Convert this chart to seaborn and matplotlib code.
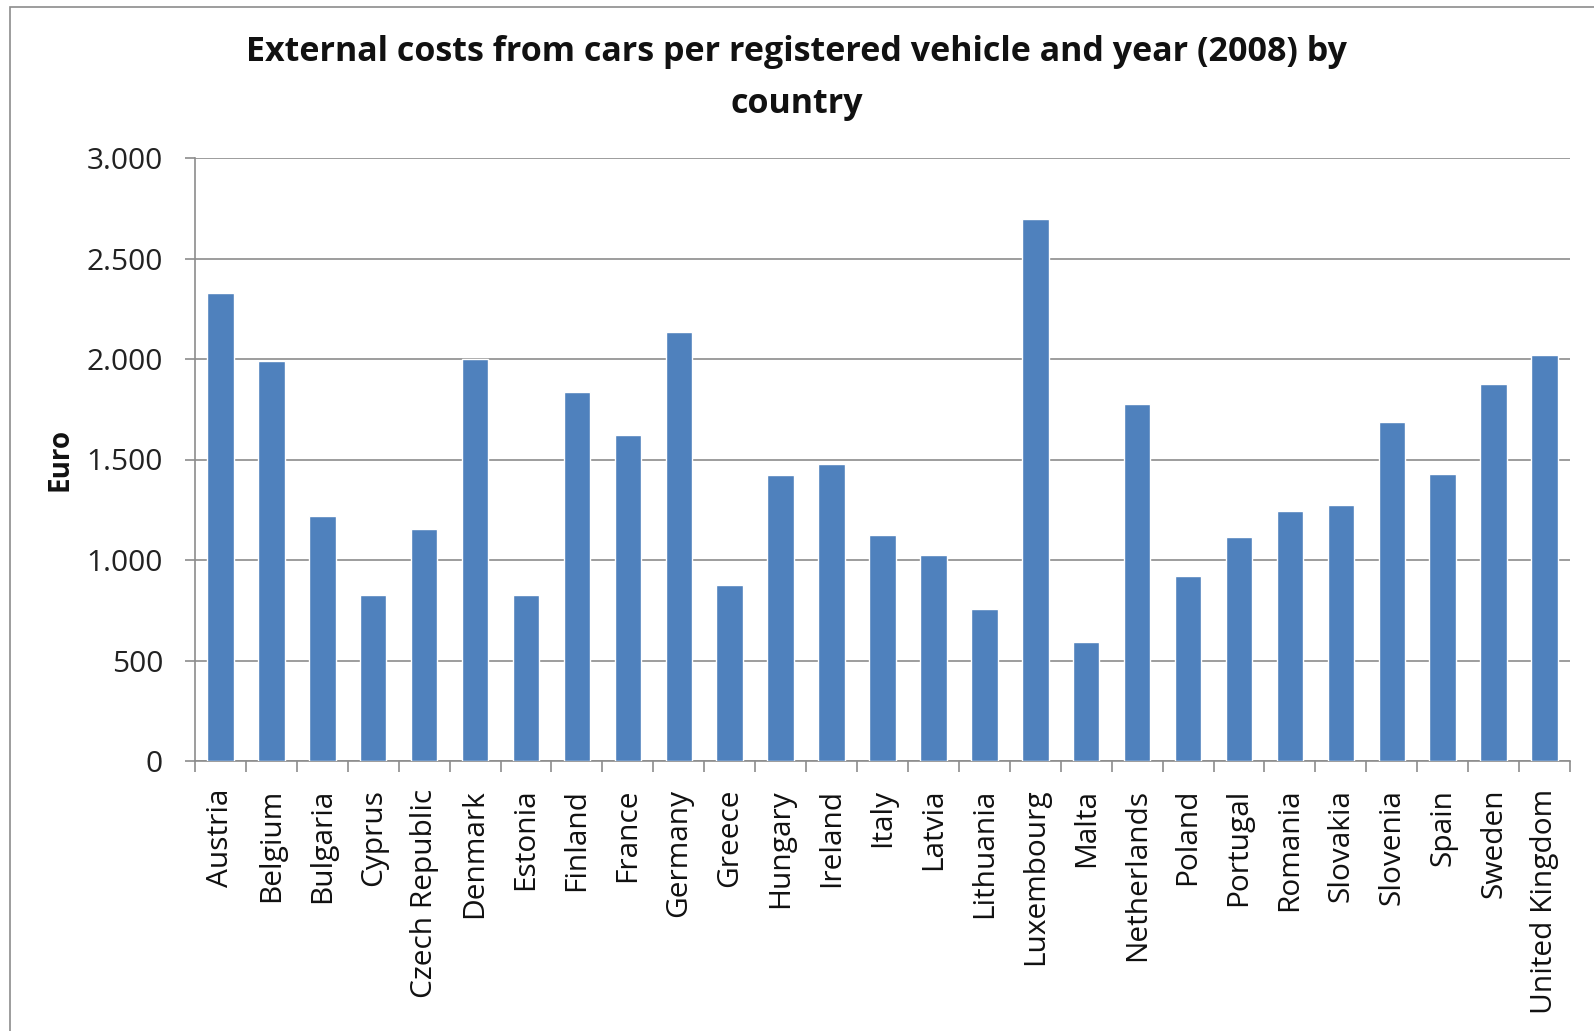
import matplotlib
matplotlib.use("Agg")
import matplotlib.pyplot as plt
import seaborn as sns
import pandas as pd
from matplotlib.ticker import FuncFormatter, FixedLocator
from matplotlib.patches import Rectangle

countries = ["Austria", "Belgium", "Bulgaria", "Cyprus", "Czech Republic", "Denmark",
             "Estonia", "Finland", "France", "Germany", "Greece", "Hungary", "Ireland",
             "Italy", "Latvia", "Lithuania", "Luxembourg", "Malta", "Netherlands",
             "Poland", "Portugal", "Romania", "Slovakia", "Slovenia", "Spain",
             "Sweden", "United Kingdom"]
costs = [2326, 1989, 1217, 828, 1154, 1999, 828, 1834, 1624, 2133, 877, 1421, 1478,
         1122, 1024, 757, 2699, 594, 1777, 918, 1113, 1244, 1274, 1689, 1429, 1875, 2021]
yticks = [0, 500, 1000, 1500, 2000, 2500, 3000]

title = "External costs from cars per registered vehicle and year (2008) by\ncountry"
ylabel = "Euro"

df = pd.DataFrame({"country": countries, "cost": costs})

sns.set_theme(style="white")
plt.rcParams['font.family'] = ['Open Sans', 'DejaVu Sans']

W, H = 1594, 1031
fig = plt.figure(figsize=(W / 100, H / 100), dpi=100)
ax = fig.add_axes([195 / W, 1 - 761 / H, (1570 - 195) / W, (761 - 158) / H])

sns.barplot(data=df, x="country", y="cost", color="#4F81BD", saturation=1,
            width=0.52, ax=ax, zorder=3)

ax.set_xlim(-0.5, len(countries) - 0.5)
ax.set_ylim(0, 3000)
ax.set_yticks(yticks)
ax.yaxis.set_major_formatter(FuncFormatter(lambda v, p: f"{int(v):,}".replace(",", ".")))
ax.yaxis.grid(True, color="#8c8c8c", linewidth=1.2, zorder=0)
ax.set_axisbelow(True)

for s in ["top", "right"]:
    ax.spines[s].set_visible(False)
for s in ["left", "bottom"]:
    ax.spines[s].set_color("#8c8c8c")
    ax.spines[s].set_linewidth(1.2)

ax.tick_params(axis="y", which="major", left=True, length=7, width=1.2, color="#8c8c8c",
               pad=16, labelsize=21.5, labelcolor="#222222")
ax.xaxis.set_minor_locator(FixedLocator([i - 0.5 for i in range(len(countries) + 1)]))
ax.tick_params(axis="x", which="minor", bottom=True, length=8, width=1.2, color="#8c8c8c")
ax.tick_params(axis="x", which="major", bottom=False, length=0, pad=20,
               labelsize=21.5, labelcolor="#111111")
ax.set_xticks(range(len(countries)))
ax.set_xticklabels(countries, rotation=90, va="top", ha="center")
ax.set_xlabel("")
ax.set_ylabel(ylabel, fontsize=20, fontweight="bold", labelpad=9, color="#111111")

fig.text(0.5, 1 - 78 / H, title, ha="center", va="center", fontsize=24.5,
         fontweight="bold", linespacing=1.68, color="#111111")

fig.patches.append(Rectangle((10 / W, -0.05), 1.1, 1 - 7 / H + 0.05, transform=fig.transFigure,
                             fill=False, edgecolor="#8c8c8c", linewidth=1.2))

fig.savefig("out.png", dpi=100, facecolor="white")
